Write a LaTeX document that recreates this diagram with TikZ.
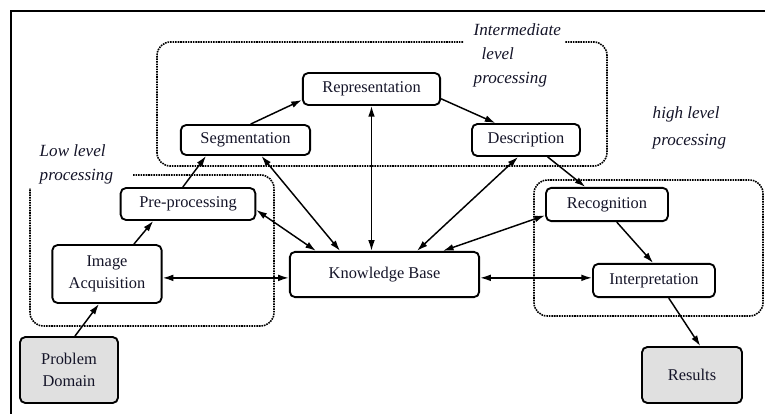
\documentclass[tikz,border=0pt]{standalone}
\usepackage{fontspec}
\setmainfont{Liberation Serif}
\usetikzlibrary{arrows.meta}
\definecolor{ink}{RGB}{20,20,40}
\definecolor{shade}{RGB}{224,224,224}
\begin{document}
\begin{tikzpicture}[x=0.75pt,y=-0.75pt,line width=1.1pt,>={Latex[length=8pt,width=5pt]},
main node/.style={draw,rounded corners=4pt,line width=1.4pt,align=center,inner sep=2pt,text=ink,font=\fontsize{12.3}{16.5}\selectfont},
end node/.style={main node,fill=shade},
zone/.style={dash pattern=on 1.2pt off 0.7pt,line width=1.2pt,rounded corners=10pt},
zone label/.style={font=\itshape\fontsize{12.8}{18}\selectfont,align=left,anchor=north west,inner sep=0pt,text=ink}]
\useasboundingbox (0,0) rectangle (765,414);
\draw[line width=1.5pt] (11,414) -- (11,11) -- (765,11);
% dotted processing zones
\draw[zone] (463,42) -| (157,166) -| (607,42) -- (565,42);
\draw[zone] (133,175) -| (274,326) -| (30,188);
\draw[zone] (534,180) rectangle (763,316);
\node[zone label] (midlabel) at (473,23) {Intermediate\\\hspace{6pt}level\\processing};
\node[zone label,font=\itshape\fontsize{12.8}{20}\selectfont] (highlabel) at (652,106) {high level\\processing};
\node[zone label] (lowlabel) at (39,144) {Low level\\processing};
\begin{scope}
\node[main node,minimum width=103pt,minimum height=24pt] (rep) at (371.5,89) {Representation};
\node[main node,minimum width=97pt,minimum height=22.5pt] (seg) at (245.5,140) {Segmentation};
\node[main node,minimum width=81pt,minimum height=24pt] (desc) at (526,140) {Description};
\node[main node,minimum width=101pt,minimum height=24pt] (pre) at (188,204) {Pre-processing};
\node[main node,minimum width=82pt,minimum height=43.5pt] (ia) at (107,274) {Image\\Acquisition};
\node[end node,minimum width=73.5pt,minimum height=49.5pt] (pd) at (69,370) {Problem\\Domain};
\node[main node,minimum width=142pt,minimum height=34pt] (kb) at (384.5,274.5) {Knowledge Base};
\node[main node,minimum width=91.5pt,minimum height=25pt] (rec) at (607,204.5) {Recognition};
\node[main node,minimum width=91.5pt,minimum height=25pt] (int) at (654,280.5) {Interpretation};
\node[end node,minimum width=75pt,minimum height=42pt] (res) at (692,375) {Results};
\end{scope}
\begin{scope}
\draw[->] (seg.72) -- (rep.189);
\draw[->] (rep.-8) -- (desc.151);
\draw[->] (pre.107) -- (seg.202);
\draw[->] (ia.48) -- (pre.206);
\draw[->] (pd.80) -- (ia.255);
\draw[<->] (ia.-4) -- (ia.-4 -| kb.west);
\draw[<->] (pre.-5) -- (kb.161);
\draw[<->] (seg.-45) -- (kb.152);
\draw[<->] (rep.south) -- (rep.south |- kb.north);
\draw[<->] (desc.245) -- (kb.36);
\draw[<->] (rec.190) -- (kb.22);
\draw[->] (desc.-38) -- (rec.141);
\draw[->] (rec.-61) -- (int.93);
\draw[<->] (kb.-2) -- (kb.-2 -| int.west);
\draw[->] (int.-50) -- (res.74);
\end{scope}
\end{tikzpicture}
\end{document}
